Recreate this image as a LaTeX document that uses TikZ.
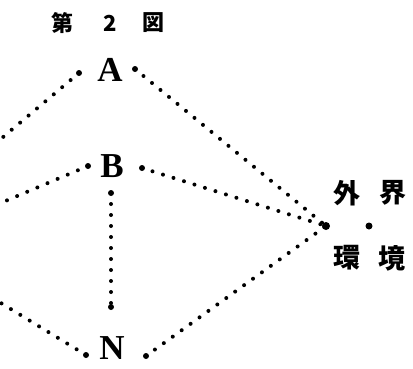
\documentclass[tikz,border=0pt]{standalone}
\usepackage{fontspec}
\newfontfamily\cjk{Noto Sans CJK JP}
\newfontfamily\letterfont{Liberation Serif}
\begin{document}
\begin{tikzpicture}[x=1pt,y=-1pt,
  letter/.style={font=\letterfont\fontsize{35}{35}\selectfont\bfseries, inner sep=0pt},
  cjklabel/.style={font=\cjk\fontsize{27}{27}\selectfont\bfseries, inner sep=0pt},
  titlelabel/.style={font=\cjk\fontsize{22}{22}\selectfont\bfseries, inner sep=0pt},
  enddot/.style={circle, fill=black, inner sep=0pt, minimum size=6pt},
  bigdot/.style={circle, fill=black, inner sep=0pt, minimum size=8pt},
  dotline/.style={line width=4pt, line cap=round, dash pattern=on 0pt off 11pt}]
\useasboundingbox[fill=white] (0,0) rectangle (413,368);
% title
\node[titlelabel] (t1) at (63,23) {第};
\node[titlelabel] (t2) at (110,23) {2};
\node[titlelabel] (t3) at (153,23) {図};
% letters
\node[letter] (A) at (110,70) {A};
\node[letter] (B) at (112,166) {B};
\node[letter] (N) at (112,348) {N};
% environment
\node[cjklabel] (w1) at (347,193) {外};
\node[cjklabel] (w2) at (393,193) {界};
\node[cjklabel] (w3) at (347,258) {環};
\node[cjklabel] (w4) at (392,258) {境};
% dots
\node[enddot] (Al) at (79,73) {};
\node[enddot] (Ar) at (135,69) {};
\node[enddot] (Bl) at (88,166) {};
\node[enddot] (Br) at (142,168) {};
\node[enddot] (Bd) at (111,193) {};
\node[enddot] (Nu) at (111,307) {};
\node[enddot] (Nl) at (86,355) {};
\node[enddot] (Nr) at (146,356) {};
\node[bigdot] (E) at (326,226) {};
\node[enddot, minimum size=7pt] (E2) at (369,226) {};
% free ends
\coordinate (Aout) at (-4,143);
\coordinate (Bout) at (-4,205);
\coordinate (Nout) at (-4,300);
% connectors
\draw[dotline] (Al.center) -- (Aout);
\draw[dotline] (Bl.center) -- (Bout);
\draw[dotline] (Nl.center) -- (Nout);
\draw[dotline] (Ar.center) -- (E.center);
\draw[dotline] (Br.center) -- (E.center);
\draw[dotline] (Nr.center) -- (E.center);
\draw[dotline] (Bd.center) -- (Nu.center);
\end{tikzpicture}
\end{document}
